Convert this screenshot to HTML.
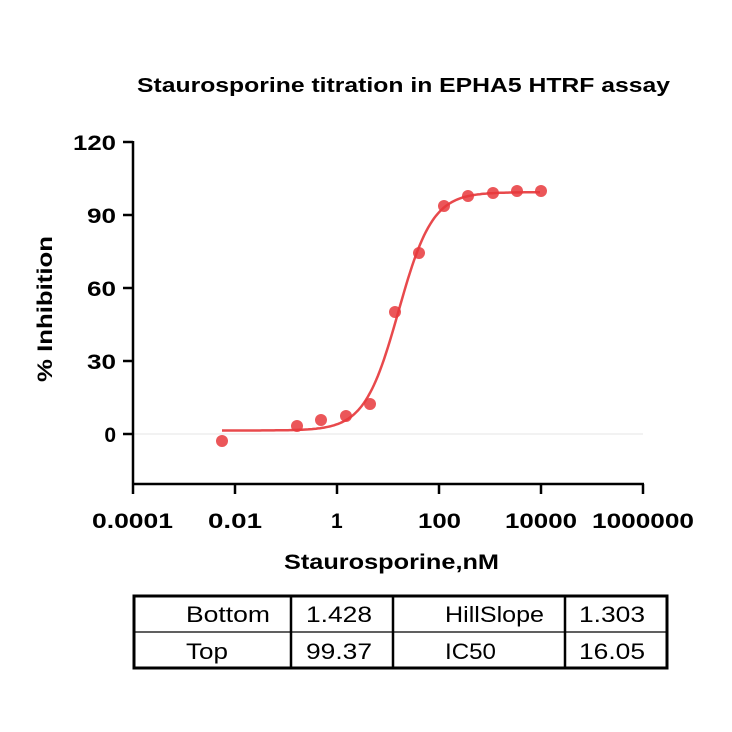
<!DOCTYPE html>
<html><head><style>body{margin:0;background:#fff}svg{display:block}</style></head>
<body>
<svg id="s" width="732" height="732" xmlns="http://www.w3.org/2000/svg" font-family="Liberation Sans, sans-serif">
<text x="137" y="92" textLength="533" lengthAdjust="spacingAndGlyphs" font-size="20" font-weight="bold">Staurosporine titration in EPHA5 HTRF assay</text>
<line x1="133" y1="434" x2="643" y2="434" stroke="#e4e4e4" stroke-width="1"/>
<g stroke="#000" stroke-width="2.5" fill="none">
<line x1="133" y1="141" x2="133" y2="484"/>
<line x1="132" y1="484" x2="644" y2="484"/>
<line x1="123" y1="142" x2="133" y2="142"/><line x1="123" y1="215" x2="133" y2="215"/><line x1="123" y1="288" x2="133" y2="288"/><line x1="123" y1="361" x2="133" y2="361"/><line x1="123" y1="434" x2="133" y2="434"/>
<line x1="133" y1="484" x2="133" y2="494"/><line x1="235" y1="484" x2="235" y2="494"/><line x1="337" y1="484" x2="337" y2="494"/><line x1="439" y1="484" x2="439" y2="494"/><line x1="541" y1="484" x2="541" y2="494"/><line x1="643" y1="484" x2="643" y2="494"/>
</g>
<g font-size="21" font-weight="bold" text-anchor="end">
<text x="116" y="150" textLength="43" lengthAdjust="spacingAndGlyphs">120</text><text x="116" y="223" textLength="29" lengthAdjust="spacingAndGlyphs">90</text><text x="116" y="296" textLength="29" lengthAdjust="spacingAndGlyphs">60</text><text x="116" y="369" textLength="29" lengthAdjust="spacingAndGlyphs">30</text><text x="116" y="442">0</text>
</g>
<g font-size="21" font-weight="bold">
<text x="92" y="528" textLength="81" lengthAdjust="spacingAndGlyphs">0.0001</text><text x="208" y="528" textLength="54" lengthAdjust="spacingAndGlyphs">0.01</text><text x="331" y="528">1</text><text x="418" y="528" textLength="43" lengthAdjust="spacingAndGlyphs">100</text><text x="505" y="528" textLength="72" lengthAdjust="spacingAndGlyphs">10000</text><text x="592" y="528" textLength="102" lengthAdjust="spacingAndGlyphs">1000000</text>
</g>
<text x="284" y="569" textLength="215" lengthAdjust="spacingAndGlyphs" font-size="21" font-weight="bold">Staurosporine,nM</text>
<text transform="translate(52,382) rotate(-90)" textLength="146" lengthAdjust="spacingAndGlyphs" font-size="21" font-weight="bold">% Inhibition</text>
<path id="curve" fill="none" stroke="#e8494c" stroke-width="2.5"/>
<g fill="#e8383c" fill-opacity="0.85">
<circle cx="222" cy="441" r="6"/><circle cx="297" cy="426" r="6"/><circle cx="321" cy="420" r="6"/><circle cx="346" cy="416" r="6"/><circle cx="370" cy="404" r="6"/><circle cx="395" cy="312" r="6"/><circle cx="419" cy="253" r="6"/><circle cx="444" cy="206" r="6"/><circle cx="468" cy="196" r="6"/><circle cx="493" cy="193" r="6"/><circle cx="517" cy="191" r="6"/><circle cx="541" cy="191" r="6"/>
</g>
<g stroke="#000" fill="none">
<rect x="134" y="596" width="533" height="72" stroke-width="3"/>
<line x1="134" y1="632" x2="667" y2="632" stroke-width="1.2"/>
<line x1="291" y1="596" x2="291" y2="668" stroke-width="2.5"/>
<line x1="393" y1="596" x2="393" y2="668" stroke-width="2.5"/>
<line x1="565" y1="596" x2="565" y2="668" stroke-width="2.5"/>
</g>
<g font-size="22">
<text x="186" y="622" textLength="84" lengthAdjust="spacingAndGlyphs">Bottom</text><text x="306" y="622" textLength="66" lengthAdjust="spacingAndGlyphs">1.428</text><text x="445" y="622" textLength="99" lengthAdjust="spacingAndGlyphs">HillSlope</text><text x="579" y="622" textLength="66" lengthAdjust="spacingAndGlyphs">1.303</text>
<text x="186" y="659" textLength="42" lengthAdjust="spacingAndGlyphs">Top</text><text x="306" y="659" textLength="66" lengthAdjust="spacingAndGlyphs">99.37</text><text x="445" y="659" textLength="51" lengthAdjust="spacingAndGlyphs">IC50</text><text x="579" y="659" textLength="66" lengthAdjust="spacingAndGlyphs">16.05</text>
</g>
</svg>
<script>
var d="";for(var px=222;px<=541;px+=2){var lx=(px-133)/51-4;var y=1.428+(99.37-1.428)/(1+Math.pow(10,(Math.log10(16.05)-lx)*1.303));var py=434-y*73/30;d+=(d?"L":"M")+px+","+py.toFixed(1);}
document.getElementById("curve").setAttribute("d",d);
</script>
</body></html>
